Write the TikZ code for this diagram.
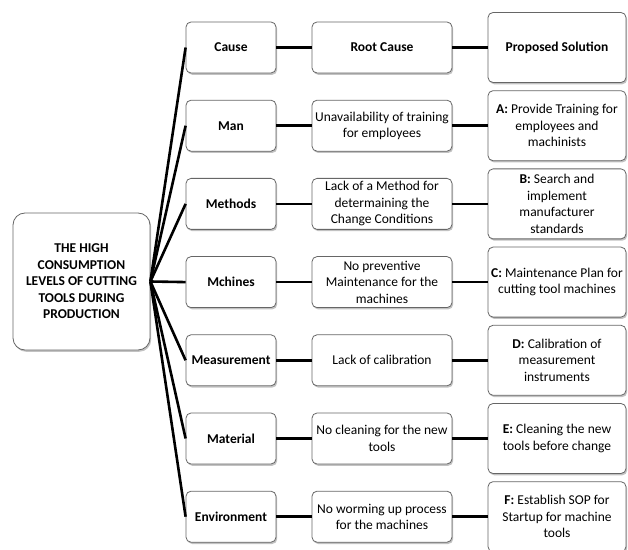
\documentclass[tikz,border=0pt]{standalone}
\usepackage{fontspec}
\setmainfont{Carlito}
\usetikzlibrary{shadows}
\begin{document}
\begin{tikzpicture}[x=1pt,y=1pt,
  box/.style={draw=black!60, line width=0.8pt, fill=white, rounded corners=5pt,
    align=center, inner sep=1pt, font=\fontsize{13.5}{16.5}\selectfont,
    drop shadow={shadow xshift=1.2pt, shadow yshift=-1.8pt, fill=black!40, opacity=0.6}},
  causebox/.style={box, minimum width=90pt, minimum height=51pt, font=\fontsize{13.5}{16.5}\selectfont\bfseries},
  rootbox/.style={box, minimum width=140pt, minimum height=51pt},
  solbox/.style={box, minimum width=138pt, minimum height=70pt},
  mainbox/.style={box, rounded corners=12pt, minimum width=137pt, minimum height=137pt, font=\fontsize{13.5}{16.5}\selectfont\bfseries},
  link/.style={line width=2.6pt}]
\useasboundingbox (0,0) rectangle (628,549);

\node[mainbox] (main) at (81.5,267.5) {THE HIGH\\CONSUMPTION\\LEVELS OF CUTTING\\TOOLS DURING\\PRODUCTION};

% cause column
\node[causebox] (c1) at (231,501.5) {Cause};
\node[causebox] (c2) at (231,423.3) {Man};
\node[causebox] (c3) at (231,345.1) {Methods};
\node[causebox] (c4) at (231,266.9) {Mchines};
\node[causebox] (c5) at (231,188.7) {Measurement};
\node[causebox] (c6) at (231,110.5) {Material};
\node[causebox] (c7) at (231,32.3) {Environment};

% root cause column
\node[rootbox, font=\fontsize{13.5}{16.5}\selectfont\bfseries] (r1) at (382,501.5) {Root Cause};
\node[rootbox] (r2) at (382,423.3) {Unavailability of training\\for employees};
\node[rootbox] (r3) at (382,345.1) {Lack of a Method for\\determaining the\\Change Conditions};
\node[rootbox] (r4) at (382,266.9) {No preventive\\Maintenance for the\\machines};
\node[rootbox] (r5) at (382,188.7) {Lack of calibration};
\node[rootbox] (r6) at (382,110.5) {No cleaning for the new\\tools};
\node[rootbox] (r7) at (382,32.3) {No worming up process\\for the machines};

% solution column
\node[solbox, font=\fontsize{13.5}{16.5}\selectfont\bfseries] (s1) at (557,501.5) {Proposed Solution};
\node[solbox] (s2) at (557,423.3) {\textbf{A:} Provide Training for\\employees and\\machinists};
\node[solbox] (s3) at (557,345.1) {\textbf{B:} Search and\\implement\\manufacturer\\standards};
\node[solbox] (s4) at (557,266.9) {\textbf{C:} Maintenance Plan for\\cutting tool machines};
\node[solbox] (s5) at (557,188.7) {\textbf{D:} Calibration of\\measurement\\instruments};
\node[solbox] (s6) at (557,110.5) {\textbf{E:} Cleaning the new\\tools before change};
\node[solbox] (s7) at (557,32.3) {\textbf{F:} Establish SOP for\\Startup for machine\\tools};

% connectors
\foreach \i in {1,...,7}{
  \draw[link] (main.east) -- (c\i.west);
  \draw[link] (c\i.east) -- (r\i.west);
  \draw[link] (r\i.east) -- (s\i.west);
}
\end{tikzpicture}
\end{document}
